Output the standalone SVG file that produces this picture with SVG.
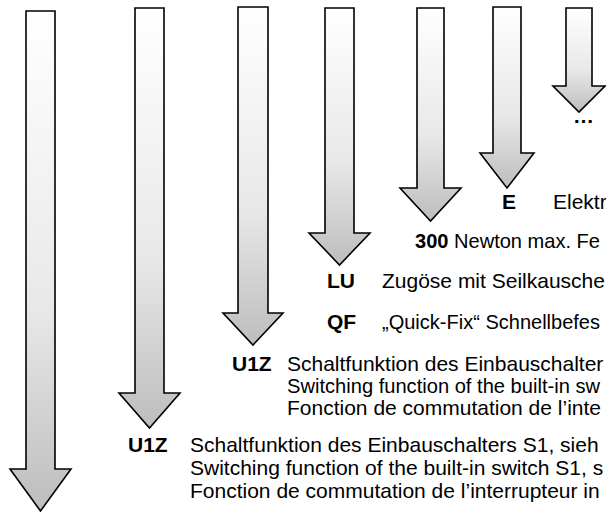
<svg xmlns="http://www.w3.org/2000/svg" width="606" height="512" viewBox="0 0 606 512">
<defs>
<linearGradient id="g" x1="0" y1="0" x2="0" y2="1">
<stop offset="0" stop-color="#ffffff"/>
<stop offset="0.6" stop-color="#e8e8e8"/>
<stop offset="1" stop-color="#bdbdbd"/>
</linearGradient>
</defs>
<style>
.arr{fill:url(#g);stroke:#000;stroke-width:1.6;stroke-linejoin:miter}
text{font-family:"Liberation Sans",Arial,sans-serif;font-size:21px;fill:#000}
.b{font-weight:bold}
.s{font-size:20.4px}
</style>
<rect width="606" height="512" fill="#fff"/>
<g id="connectors">
<path id="a1" class="arr" d="M26,11 H55 V469 H71 L40.5,511 L10,469 H26 Z"/>
<path id="a2" class="arr" d="M135,8 H164 V393 H180 L149.5,428 L119,393 H135 Z"/>
<path id="a3" class="arr" d="M238,7 H268 V313 H283 L253,345 L223,313 H238 Z"/>
<path id="a4" class="arr" d="M325,8 H354 V233 H370 L339.5,265 L309,233 H325 Z"/>
<path id="a5" class="arr" d="M417,8 H444 V188 H461 L430.5,221 L400,188 H417 Z"/>
<path id="a6" class="arr" d="M493,7 H521 V153 H534 L507,188 L480,153 H493 Z"/>
<path id="a7" class="arr" d="M566,8 H592 V86 H605 L579,112 L553,86 H566 Z"/>
</g>
<g id="n-dots"><text class="b" x="573" y="123">…</text></g>
<g id="n-E"><text class="b" x="502" y="209">E</text><text x="553" y="209">Elektr</text></g>
<g id="n-300"><text class="s" x="415" y="248" textLength="185" lengthAdjust="spacingAndGlyphs"><tspan class="b">300</tspan> Newton max. Fe</text></g>
<g id="n-LU"><text class="b" x="327" y="288">LU</text><text x="382" y="288">Zugöse mit Seilkausche</text></g>
<g id="n-QF"><text class="b" x="327" y="329">QF</text><text class="s" x="382" y="329" textLength="218" lengthAdjust="spacingAndGlyphs">„Quick-Fix“ Schnellbefes</text></g>
<g id="n-U1Z-1"><text class="b" x="232" y="371">U1Z</text>
<text x="287" y="371">Schaltfunktion des Einbauschalter</text>
<text class="s" x="287" y="393" textLength="313" lengthAdjust="spacingAndGlyphs">Switching function of the built-in sw</text>
<text x="287" y="415">Fonction de commutation de l’inte</text></g>
<g id="n-U1Z-2"><text class="b" x="128" y="452">U1Z</text>
<text x="190" y="452">Schaltfunktion des Einbauschalters S1, sieh</text>
<text x="190" y="475">Switching function of the built-in switch S1, s</text>
<text x="190" y="498">Fonction de commutation de l’interrupteur in</text></g>
</svg>
